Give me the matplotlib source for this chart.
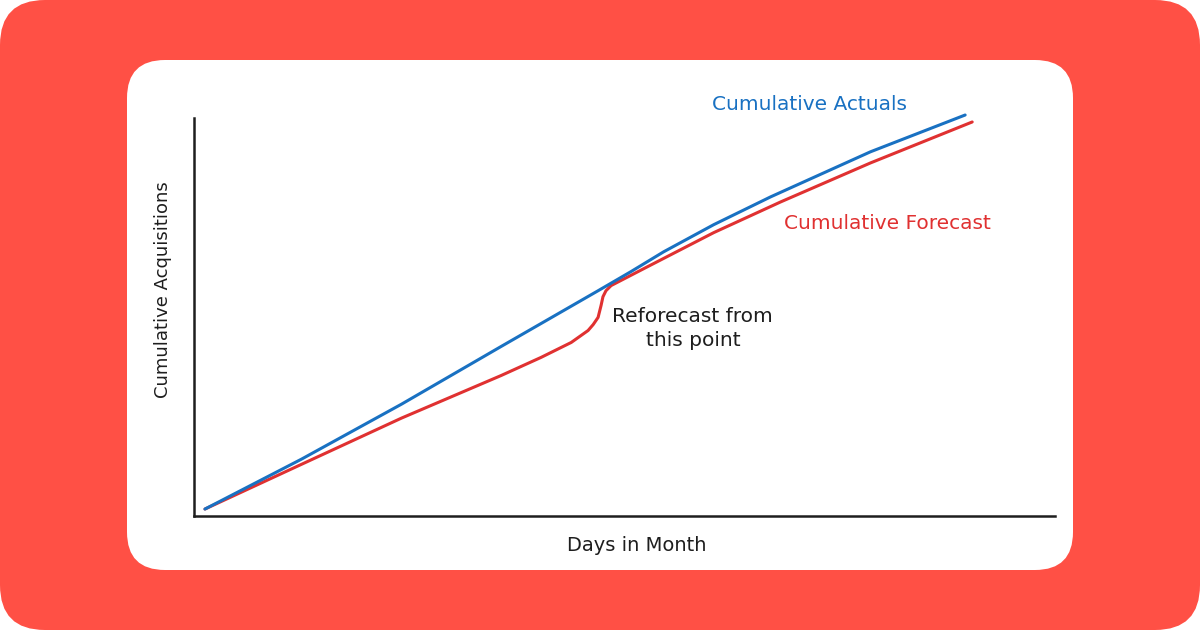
import matplotlib.pyplot as plt
from matplotlib.patches import FancyBboxPatch

# days in month vs cumulative acquisitions
actual_days = [1.0, 4.56, 8.24, 11.91, 15.48, 16.69, 17.90, 19.74, 21.84, 25.51, 29.0]
actual_vals = [1.75, 14.3, 28.1, 42.6, 56.6, 61.4, 66.4, 73.2, 80.2, 91.5, 100.75]

forecast_days = [1.0, 4.56, 8.24, 11.91, 13.38, 14.49, 15.11, 15.30, 15.48, 15.59,
                 15.66, 15.77, 15.96, 17.32, 19.74, 22.20, 25.51, 29.26]
forecast_vals = [1.75, 13.0, 24.6, 35.3, 39.85, 43.6, 46.6, 48.1, 49.9, 52.9,
                 55.1, 56.6, 57.9, 62.7, 71.2, 78.9, 88.7, 99.0]

blue = '#1971c2'
red = '#e03131'
ink = '#1e1e1e'

fig = plt.figure(figsize=(12, 6.3), dpi=100)
fig.patch.set_facecolor('white')

# background: red rounded panel with white card, in pixel coords
bg = fig.add_axes([0, 0, 1, 1])
bg.set_xlim(0, 1200)
bg.set_ylim(630, 0)
bg.axis('off')
bg.add_patch(FancyBboxPatch((0, 0), 1200, 630, boxstyle='round,pad=0,rounding_size=45',
                            facecolor='#ff5045', edgecolor='none'))
bg.add_patch(FancyBboxPatch((127, 60), 946, 510, boxstyle='round,pad=0,rounding_size=38',
                            facecolor='white', edgecolor='none'))

ax = fig.add_axes([194 / 1200, 1 - 516 / 630, 861 / 1200, 398 / 630])
ax.patch.set_alpha(0)
ax.plot(actual_days, actual_vals, color=blue, lw=2.2, solid_capstyle='round',
        solid_joinstyle='round', clip_on=False, zorder=3)
ax.plot(forecast_days, forecast_vals, color=red, lw=2.2, solid_capstyle='round',
        solid_joinstyle='round', clip_on=False, zorder=2)

ax.set_xlim(0.596, 32.31)
ax.set_ylim(0, 100)
for s in ['top', 'right']:
    ax.spines[s].set_visible(False)
for s in ['left', 'bottom']:
    ax.spines[s].set_color(ink)
    ax.spines[s].set_linewidth(1.8)
ax.set_xticks([])
ax.set_yticks([])

font = 'DejaVu Sans'
ax.set_xlabel('Days in Month', fontsize=14, color=ink, family=font)
ax.set_ylabel('Cumulative Acquisitions', fontsize=13, color=ink, family=font)
ax.xaxis.set_label_coords(0.5145, -0.073)
ax.yaxis.set_label_coords(-0.036, 0.568)
ax.xaxis.label.set_va('center')
ax.yaxis.label.set_va('center')

ax.text(19.67, 103.3, 'Cumulative Actuals', color=blue, fontsize=14.5,
        ha='left', va='center', family=font)
ax.text(22.31, 73.4, 'Cumulative Forecast', color=red, fontsize=14.5,
        ha='left', va='center', family=font)
ax.text(18.97, 47.1, 'Reforecast from\nthis point', color=ink, fontsize=14.5,
        ha='center', va='center', linespacing=1.35, family=font)

fig.savefig('out.png', dpi=100)
